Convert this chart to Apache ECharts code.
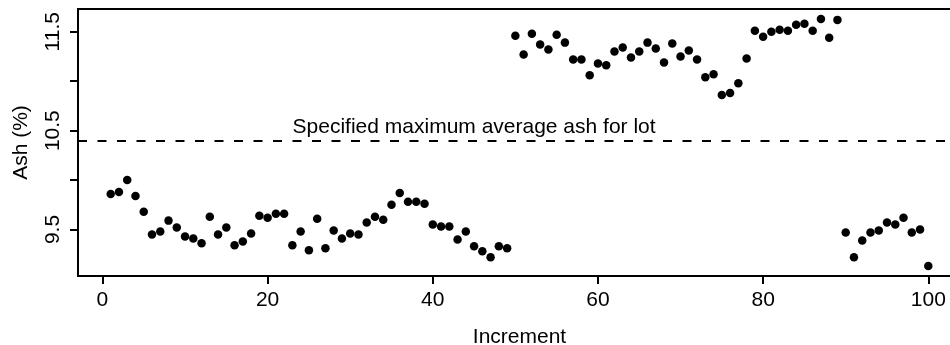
<!DOCTYPE html>
<html>
<head>
<meta charset="utf-8">
<script src="https://cdn.jsdelivr.net/npm/echarts@6/dist/echarts.min.js"></script>
<style>
html,body{margin:0;padding:0;background:#fff;}
#chart{width:950px;height:345px;}
</style>
</head>
<body>
<div id="chart"></div>
<script>
// Ash (%) per increment 1..100
var ash = [
  9.86, 9.88, 10.00, 9.84, 9.68, 9.45, 9.48, 9.59, 9.52, 9.43,
  9.41, 9.36, 9.63, 9.45, 9.52, 9.34, 9.38, 9.46, 9.64, 9.62,
  9.66, 9.66, 9.34, 9.48, 9.29, 9.61, 9.31, 9.49, 9.41, 9.46,
  9.45, 9.57, 9.63, 9.60, 9.75, 9.87, 9.78, 9.78, 9.76, 9.55,
  9.53, 9.53, 9.40, 9.48, 9.33, 9.28, 9.22, 9.33, 9.31, 11.46,
  11.27, 11.48, 11.37, 11.32, 11.47, 11.39, 11.22, 11.22, 11.06, 11.18,
  11.16, 11.30, 11.34, 11.24, 11.30, 11.39, 11.33, 11.19, 11.38, 11.25,
  11.31, 11.22, 11.04, 11.07, 10.86, 10.88, 10.98, 11.23, 11.51, 11.45,
  11.50, 11.52, 11.51, 11.57, 11.58, 11.51, 11.63, 11.44, 11.62, 9.47,
  9.22, 9.39, 9.47, 9.49, 9.57, 9.55, 9.62, 9.47, 9.50, 9.13
];
var xTicks = [0, 20, 40, 60, 80, 100];
var yTicks = [9.5, 10.0, 10.5, 11.0, 11.5];
var yTickLabels = [9.5, 10.5, 11.5];
var specLimit = 10.4;
var specLabel = 'Specified maximum average ash for lot';
var specLabelX = 45;
var xName = 'Increment';
var yName = 'Ash (%)';

var points = ash.map(function (v, i) { return [i + 1, v]; });

var FONT = 'Liberation Sans, Arial, sans-serif';
var FS = 21;

var chart = echarts.init(document.getElementById('chart'), null, {renderer: 'canvas'});
chart.setOption({
  animation: false,
  backgroundColor: '#fff',
  grid: {
    left: 78, top: 9, width: 883, height: 267,
    show: true, borderColor: '#000', borderWidth: 2, backgroundColor: 'transparent',
    containLabel: false, outerBoundsMode: 'none'
  },
  xAxis: {
    type: 'value', min: -2.96, max: 103.96,
    name: xName, nameLocation: 'middle', nameGap: 51,
    nameTextStyle: {color: '#000', fontSize: FS, fontFamily: FONT},
    axisLine: {show: false, onZero: false},
    splitLine: {show: false},
    axisTick: {show: true, inside: false, length: 8, customValues: xTicks,
      lineStyle: {color: '#000', width: 2}},
    axisLabel: {show: true, customValues: xTicks, margin: 14,
      color: '#000', fontSize: FS, fontFamily: FONT}
  },
  yAxis: {
    type: 'value', min: 9.03, max: 11.73,
    name: yName, nameLocation: 'middle', nameGap: 46, nameRotate: 90,
    nameTextStyle: {color: '#000', fontSize: FS, fontFamily: FONT},
    axisLine: {show: false, onZero: false},
    splitLine: {show: false},
    axisTick: {show: true, inside: false, length: 8, customValues: yTicks,
      lineStyle: {color: '#000', width: 2}},
    axisLabel: {show: true, customValues: yTickLabels, rotate: 90, margin: 14,
      color: '#000', fontSize: FS, fontFamily: FONT,
      formatter: function (v) { return v.toFixed(1); }}
  },
  series: [{
    type: 'scatter',
    data: points,
    symbol: 'circle',
    symbolSize: 8.5,
    itemStyle: {color: '#000', opacity: 1},
    markLine: {
      silent: true,
      symbol: ['none', 'none'],
      label: {show: false},
      lineStyle: {color: '#000', type: [9, 10.5], width: 2},
      data: [{yAxis: specLimit}]
    },
    markPoint: {
      silent: true,
      symbol: 'circle', symbolSize: 0,
      label: {show: true, position: 'top', distance: 3, formatter: specLabel,
        color: '#000', fontSize: FS, fontFamily: FONT},
      data: [{coord: [specLabelX, specLimit]}]
    }
  }]
});
</script>
</body>
</html>
